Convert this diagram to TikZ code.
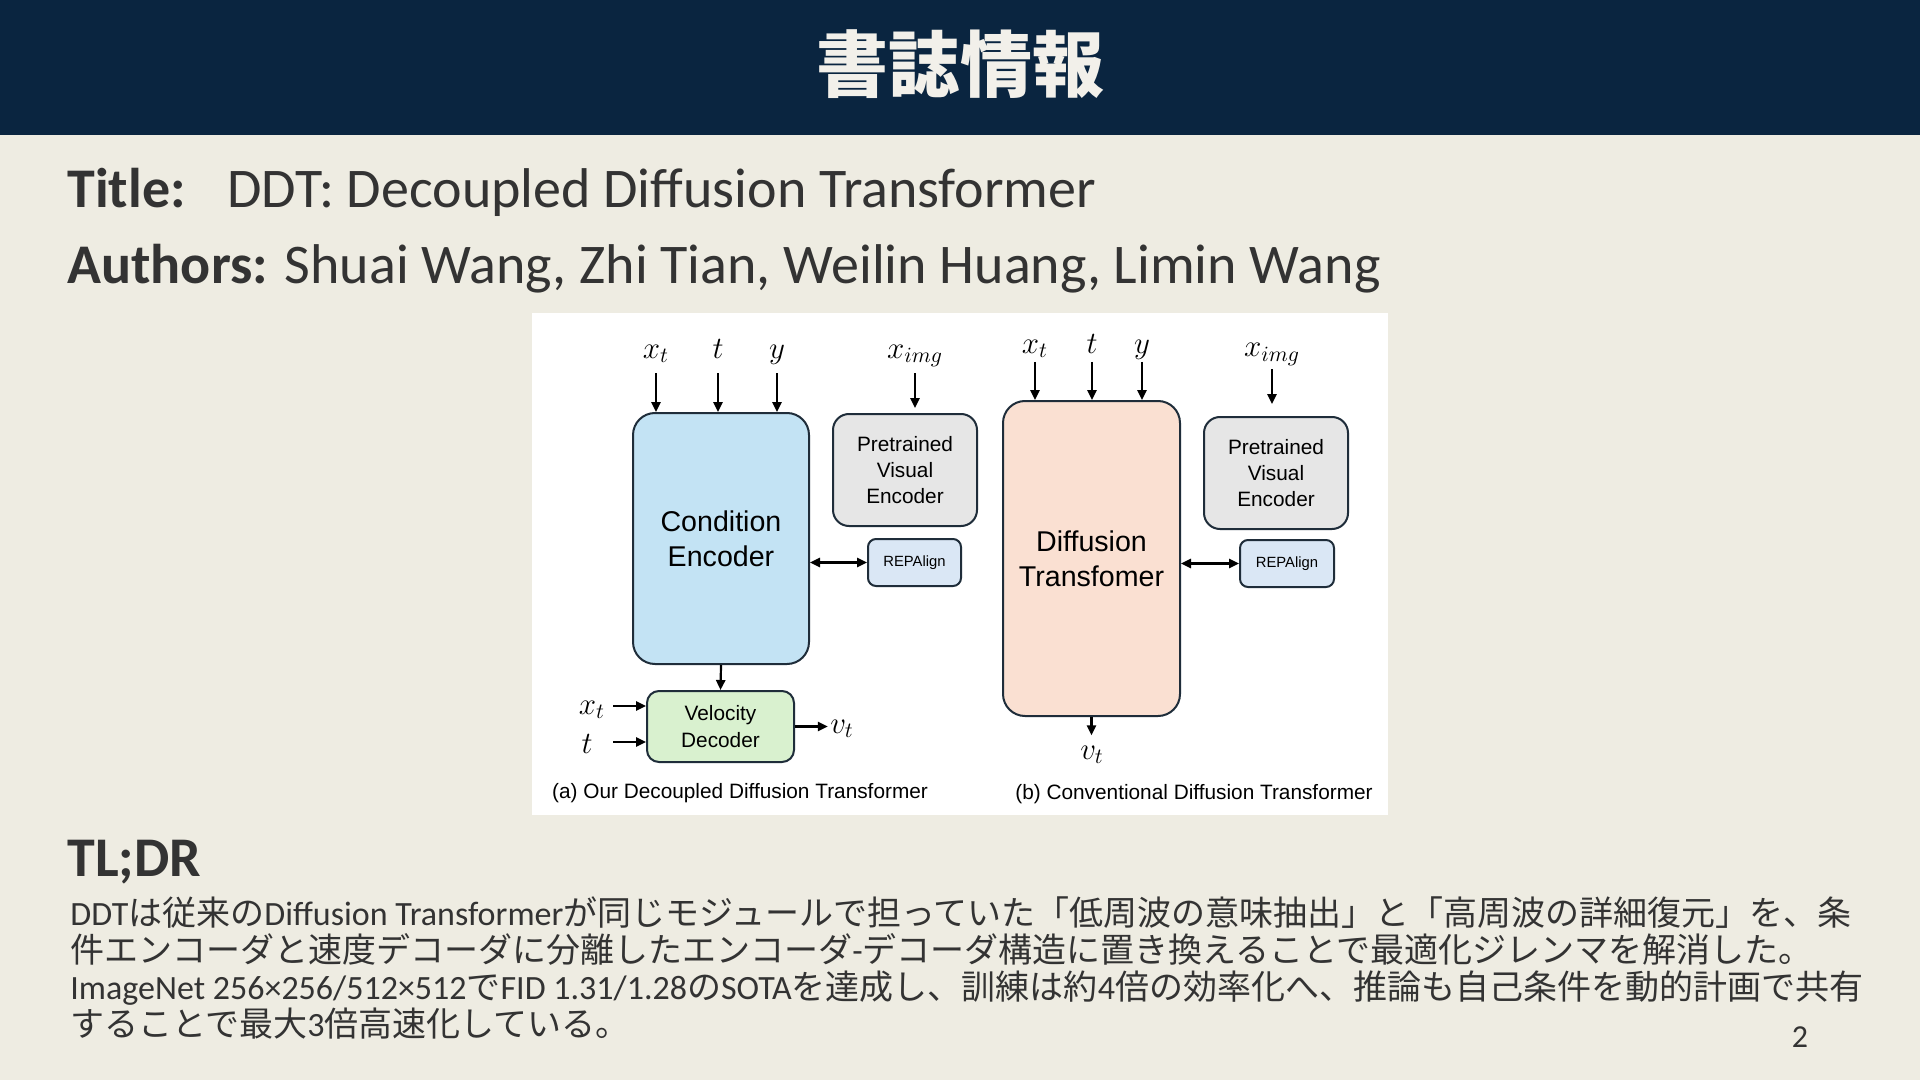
\RequirePackage{fix-cm}
\documentclass[tikz,border=0pt]{standalone}
\usepackage{fontspec}
\setmainfont{Carlito}
\setsansfont{Liberation Sans}
\newfontfamily\jpfont{Noto Sans CJK JP}
\usetikzlibrary{arrows.meta,calc}

\definecolor{navy}{HTML}{0A2540}
\definecolor{paper}{HTML}{EEECE2}
\definecolor{headtxt}{HTML}{F2F0EA}
\definecolor{ink}{HTML}{333333}
\definecolor{edge}{HTML}{1F2D3A}
\definecolor{ceblue}{HTML}{C3E3F4}
\definecolor{pvgray}{HTML}{E6E6E6}
\definecolor{repblue}{HTML}{DAE7F5}
\definecolor{vdgreen}{HTML}{D9F1CF}
\definecolor{dtpeach}{HTML}{FAE0D2}
\newcommand\jp[1]{{\jpfont #1}}

\begin{document}
\begin{tikzpicture}[x=0.5pt, y=-0.5pt,
  block/.style={draw=edge, line width=1pt, inner sep=0pt, align=center, font=\sffamily\fontsize{10.4}{13.2}\selectfont},
  bigblock/.style={block, rounded corners=11pt, font=\sffamily\fontsize{14.3}{17.5}\selectfont},
  pvblock/.style={block, fill=pvgray, rounded corners=8pt},
  repblock/.style={block, fill=repblue, rounded corners=4pt, minimum height=23.5pt, font=\sffamily\fontsize{7.4}{9}\selectfont},
  flow/.style={-{Triangle[length=5pt,width=4.6pt]}, line width=1.1pt},
  biflow/.style={{Triangle[length=5pt,width=4.6pt]}-{Triangle[length=5pt,width=4.6pt]}, line width=1.1pt},
  sym/.style={inner sep=0pt, anchor=base, font=\fontsize{15.5}{18}\selectfont},
  capt/.style={inner sep=0pt, font=\sffamily\fontsize{10.4}{12}\selectfont},
  txt/.style={inner sep=0pt, anchor=base west, text=ink}
]
\fill[paper] (0,0) rectangle (1920,1080);
\useasboundingbox (0,0) rectangle (1920,1080);
\fill[navy] (0,0) rectangle (1920,135);
\node[text=headtxt, font=\jpfont\bfseries\fontsize{36}{40}\selectfont] (head) at (960,64) {書誌情報};

\node[txt, font=\bfseries\fontsize{28}{34}\selectfont] (ttl) at (67,208) {Title:};
\node[txt, font=\fontsize{28}{34}\selectfont] (ttlv) at (227,208) {DDT: Decoupled Diffusion Transformer};
\node[txt, font=\fontsize{28}{34}\selectfont] (auth) at (67,284) {\textbf{Authors:} Shuai Wang, Zhi Tian, Weilin Huang, Limin Wang};

\fill[white] (532,313) rectangle (1388,815);

\node[bigblock, fill=ceblue, minimum width=88pt, minimum height=125.5pt] (ce) at (721,538.5) {Condition\\Encoder};
\node[pvblock, minimum width=72pt, minimum height=56pt] (pve1) at (905,470) {Pretrained\\Visual\\Encoder};
\node[repblock, minimum width=46.5pt] (rep1) at (914.5,562.5) {REPAlign};
\node[block, fill=vdgreen, rounded corners=6pt, minimum width=73.5pt, minimum height=35.5pt] (vd) at (720.5,726.5) {Velocity\\Decoder};

\node[sym] (xt1) at (656,358) {$x_t$};
\node[sym] (t1) at (718,358) {$t$};
\node[sym] (y1) at (777,358) {$y$};
\node[sym] (ximg1) at (915,358) {$x_{img}$};
\draw[flow] ($(xt1.base)+(0,15)$) -- (xt1.base |- ce.north);
\draw[flow] ($(t1.base)+(0,15)$) -- (t1.base |- ce.north);
\draw[flow] ($(y1.base)+(0,15)$) -- (y1.base |- ce.north);
\draw[flow, shorten >=2.5pt] ($(ximg1.base)+(0,15)$) -- (ximg1.base |- pve1.north);
\draw[biflow] (rep1.west -| ce.east) -- (rep1.west);
\draw[flow] (ce.south) -- (vd.north);

\node[sym] (xt2) at (592,714) {$x_t$};
\node[sym] (t2) at (587,753) {$t$};
\coordinate (in2) at (613,706);
\coordinate (in3) at (613,742);
\draw[flow] (in2) -- (in2 -| vd.west);
\draw[flow] (in3) -- (in3 -| vd.west);
\node[sym] (vt1) at (842,733) {$v_t$};
\draw[flow, shorten >=1pt] (vd.east) -- (vd.east -| vt1.west);
\node[capt] (capa) at (740,793) {(a) Our Decoupled Diffusion Transformer};

\node[bigblock, fill=dtpeach, minimum width=88.5pt, minimum height=157.5pt] (dt) at (1091.5,558.5) {Diffusion\\Transfomer};
\node[pvblock, minimum width=72pt, minimum height=56pt] (pve2) at (1276,473) {Pretrained\\Visual\\Encoder};
\node[repblock, minimum width=47pt] (rep2) at (1287,563.5) {REPAlign};

\node[sym] (xt3) at (1035,353) {$x_t$};
\node[sym] (t3) at (1092,353) {$t$};
\node[sym] (y3) at (1142,353) {$y$};
\node[sym] (ximg2) at (1272,357) {$x_{img}$};
\draw[flow] ($(xt3.base)+(0,9)$) -- (xt3.base |- dt.north);
\draw[flow] ($(t3.base)+(0,9)$) -- (t3.base |- dt.north);
\draw[flow] ($(y3.base)+(0,9)$) -- (y3.base |- dt.north);
\draw[flow, shorten >=6pt] ($(ximg2.base)+(0,12)$) -- (ximg2.base |- pve2.north);
\draw[biflow] (rep2.west -| dt.east) -- (rep2.west);
\node[sym] (vt2) at (1092,759) {$v_t$};
\draw[flow, shorten >=5pt] (dt.south) -- (dt.south |- vt2.north);
\node[capt] (capb) at (1194,794) {(b) Conventional Diffusion Transformer};

\node[txt, font=\bfseries\fontsize{28}{34}\selectfont] (tldr) at (67,876) {TL;DR};
\node[txt, font=\fontsize{17}{20}\selectfont] (l1) at (70,925) {DDT\jp{は従来の}Diffusion Transformer\jp{が同じモジュールで担っていた「低周波の意味抽出」と「高周波の詳細復元」を、条}};
\node[txt, font=\fontsize{17}{20}\selectfont] (l2) at (70,962) {\jp{件エンコーダと速度デコーダに分離したエンコーダ}-\jp{デコーダ構造に置き換えることで最適化ジレンマを解消した。}};
\node[txt, font=\fontsize{17}{20}\selectfont] (l3) at (70,999) {ImageNet 256×256/512×512\jp{で}FID 1.31/1.28\jp{の}SOTA\jp{を達成し、訓練は約}4\jp{倍の効率化へ、推論も自己条件を動的計画で共有}};
\node[txt, font=\fontsize{17}{20}\selectfont] (l4) at (70,1036) {\jp{することで最大}3\jp{倍高速化している。}};
\node[anchor=base, inner sep=0pt, text=ink, font=\fontsize{16}{19}\selectfont] (pg) at (1800,1047) {2};
\end{tikzpicture}
\end{document}
